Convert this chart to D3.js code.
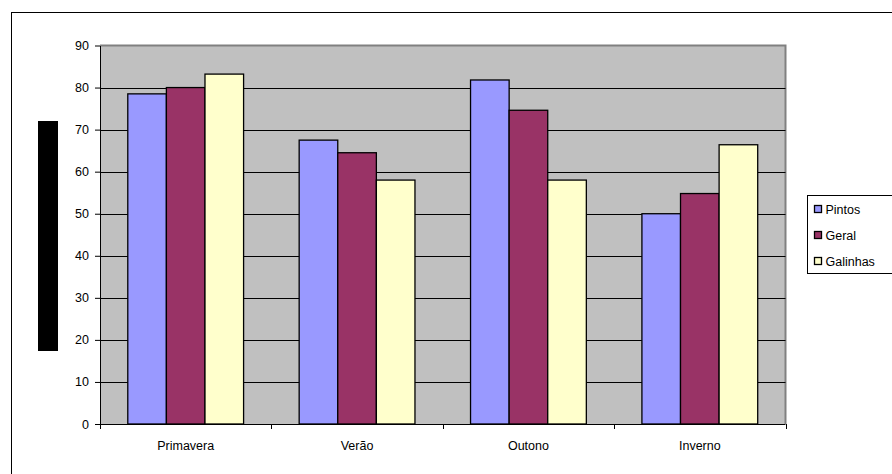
<!DOCTYPE html>
<html lang="pt">
<head>
<meta charset="UTF-8">
<title>Pintos / Geral / Galinhas</title>
<script src="https://d3js.org/d3.v7.min.js"></script>
<style>
  body { margin: 0; background: #fff; }
  svg text { font-family: "Liberation Sans", Arial, sans-serif; }
</style>
</head>
<body>
<svg id="chart" width="892" height="474"></svg>
<script>
    // data
    const seasons = ["Primavera", "Verão", "Outono", "Inverno"];
    const seriesNames = ["Pintos", "Geral", "Galinhas"];
    const pintos = [78.5, 67.5, 81.8, 50];
    const geral = [80, 64.5, 74.6, 54.8];
    const galinhas = [83.2, 58, 58, 66.4];
    const yTicks = [0, 10, 20, 30, 40, 50, 60, 70, 80, 90];

    const colors = ["#9999FF", "#993366", "#FFFFCC"];
    const values = [pintos, geral, galinhas];

    const svg = d3.select("#chart");
    const plot = {left: 100, top: 45.5, right: 785.5, bottom: 424};

    // outer chart frame (only top and left edges are inside the picture)
    svg.append("rect")
        .attr("x", 11.5).attr("y", 12.5)
        .attr("width", 900).attr("height", 500)
        .attr("fill", "#fff").attr("stroke", "#000").attr("stroke-width", 1);

    const x = d3.scaleBand()
        .domain(seasons)
        .range([plot.left, plot.right]);

    const xInner = d3.scaleBand()
        .domain(seriesNames)
        .range([0, x.bandwidth()])
        .paddingOuter(0.72);

    const y = d3.scaleLinear()
        .domain([0, 90])
        .range([plot.bottom, plot.top]);

    // plot area
    svg.append("rect")
        .attr("x", plot.left).attr("y", plot.top)
        .attr("width", plot.right - plot.left).attr("height", plot.bottom - plot.top)
        .attr("fill", "#C0C0C0");
    svg.append("path")
        .attr("d", `M${plot.left},${plot.top}H${plot.right}V${plot.bottom}`)
        .attr("fill", "none").attr("stroke", "#808080").attr("stroke-width", 2);

    // gridlines
    svg.append("g")
        .selectAll("line")
        .data(yTicks.filter(d => d > 0 && d < 90))
        .join("line")
        .attr("x1", plot.left).attr("x2", plot.right)
        .attr("y1", d => Math.round(y(d)) + 0.5).attr("y2", d => Math.round(y(d)) + 0.5)
        .attr("stroke", "#000").attr("stroke-width", 1);

    // bars
    const groups = svg.append("g")
        .selectAll("g")
        .data(seasons)
        .join("g")
        .attr("transform", d => `translate(${x(d)},0)`);

    groups.selectAll("rect")
        .data((d, i) => seriesNames.map((s, j) => ({s, v: values[j][i], c: colors[j]})))
        .join("rect")
        .attr("x", d => xInner(d.s))
        .attr("y", d => y(d.v))
        .attr("width", xInner.bandwidth())
        .attr("height", d => y(0) - y(d.v))
        .attr("fill", d => d.c)
        .attr("stroke", "#000").attr("stroke-width", 1.3);

    // y axis
    const yAxis = svg.append("g")
        .attr("transform", `translate(${plot.left},0)`)
        .call(d3.axisLeft(y).tickValues(yTicks).tickSize(5).tickPadding(6).tickSizeOuter(0));
    yAxis.select(".domain").attr("stroke", "#000");
    yAxis.selectAll("text").attr("font-size", 12.5).attr("fill", "#000");

    // x axis
    const xTickPos = seasons.map(s => x(s)).concat([plot.right]);
    const xAxis = svg.append("g")
        .attr("transform", `translate(0,${plot.bottom})`);
    xAxis.append("line")
        .attr("x1", plot.left - 5).attr("x2", plot.right)
        .attr("y1", 0.5).attr("y2", 0.5).attr("stroke", "#000");
    xAxis.selectAll("line.tick")
        .data(xTickPos)
        .join("line")
        .attr("class", "tick")
        .attr("x1", d => Math.round(d) + 0.5).attr("x2", d => Math.round(d) + 0.5)
        .attr("y1", 0).attr("y2", 5).attr("stroke", "#000");
    xAxis.selectAll("text")
        .data(seasons)
        .join("text")
        .attr("x", d => x(d) + x.bandwidth() / 2)
        .attr("y", 26)
        .attr("text-anchor", "middle")
        .attr("font-size", 12.5)
        .text(d => d);

    // blacked-out y axis title
    svg.append("rect")
        .attr("x", 38).attr("y", 121)
        .attr("width", 20).attr("height", 230)
        .attr("fill", "#000");

    // legend
    const legend = svg.append("g").attr("transform", "translate(807.5,195.5)");
    legend.append("rect")
        .attr("width", 90).attr("height", 78)
        .attr("fill", "#fff").attr("stroke", "#000");
    const items = legend.selectAll("g.item")
        .data(seriesNames)
        .join("g")
        .attr("class", "item")
        .attr("transform", (d, i) => `translate(0,${14 + i * 26})`);
    items.append("rect")
        .attr("x", 7).attr("y", -4)
        .attr("width", 7).attr("height", 7)
        .attr("fill", (d, i) => colors[i])
        .attr("stroke", "#000").attr("stroke-width", 1.3);
    items.append("text")
        .attr("x", 18).attr("y", 4.5)
        .attr("font-size", 12.5)
        .text(d => d);
</script>
</body>
</html>
